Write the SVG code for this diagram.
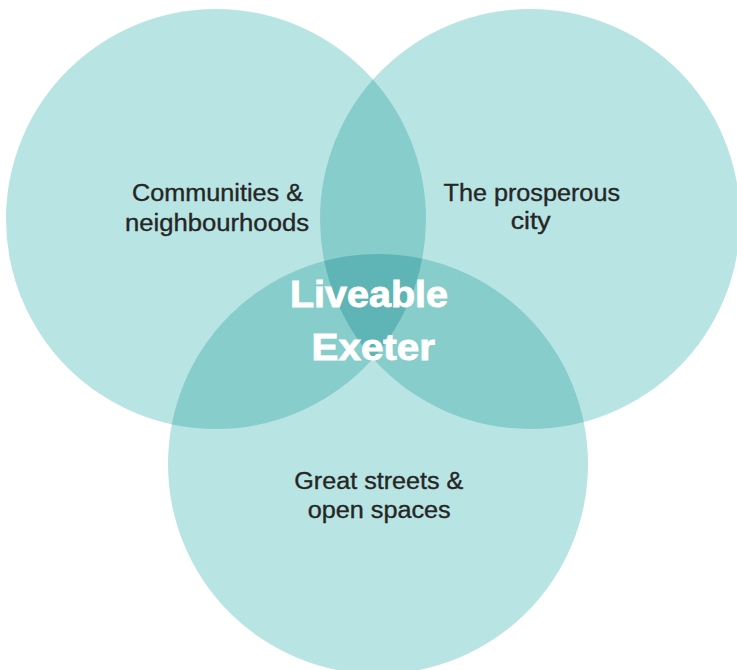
<svg xmlns="http://www.w3.org/2000/svg" width="737" height="670" viewBox="0 0 737 670">
  <style>
    .set { fill: #b8e4e3; }
    .pair { fill: #87cdcc; }
    .core { fill: #5fb4b5; }
    .label { font-family: "Liberation Sans", Arial, sans-serif; font-size: 23.5px; fill: #262626; stroke: #262626; stroke-width: 0.35px; }
    .title { font-family: "Liberation Sans", Arial, sans-serif; font-size: 36px; font-weight: bold; fill: #ffffff; stroke: #ffffff; stroke-width: 0.9px; }
  </style>
  <defs>
    <circle id="c-left" cx="216" cy="219" r="210"/>
    <circle id="c-right" cx="530" cy="219" r="210"/>
    <circle id="c-bottom" cx="378" cy="464" r="210"/>
    <clipPath id="clip-left"><use href="#c-left"/></clipPath>
    <clipPath id="clip-right"><use href="#c-right"/></clipPath>
    <clipPath id="clip-bottom"><use href="#c-bottom"/></clipPath>
  </defs>

  <rect width="737" height="670" fill="#ffffff"/>

  <!-- three sets -->
  <g id="communities">
    <use href="#c-left" class="set"/>
  </g>
  <g id="prosperous">
    <use href="#c-right" class="set"/>
  </g>
  <g id="streets">
    <use href="#c-bottom" class="set"/>
  </g>

  <!-- pairwise overlaps -->
  <g id="overlaps">
    <g clip-path="url(#clip-left)"><use href="#c-right" class="pair"/></g>
    <g clip-path="url(#clip-left)"><use href="#c-bottom" class="pair"/></g>
    <g clip-path="url(#clip-right)"><use href="#c-bottom" class="pair"/></g>
    <!-- triple overlap -->
    <g clip-path="url(#clip-left)"><g clip-path="url(#clip-right)"><use href="#c-bottom" class="core"/></g></g>
  </g>

  <!-- labels -->
  <g id="communities-label">
    <text class="label" x="132" y="200.5" textLength="171" lengthAdjust="spacingAndGlyphs">Communities &amp;</text>
    <text class="label" x="125" y="231" textLength="184" lengthAdjust="spacingAndGlyphs">neighbourhoods</text>
  </g>
  <g id="prosperous-label">
    <text class="label" x="443.5" y="200.5" textLength="176.5" lengthAdjust="spacingAndGlyphs">The prosperous</text>
    <text class="label" x="510.7" y="229" textLength="40" lengthAdjust="spacingAndGlyphs">city</text>
  </g>
  <g id="streets-label">
    <text class="label" x="294.3" y="488.5" textLength="169" lengthAdjust="spacingAndGlyphs">Great streets &amp;</text>
    <text class="label" x="307.7" y="518" textLength="143" lengthAdjust="spacingAndGlyphs">open spaces</text>
  </g>
  <g id="liveable-exeter">
    <text class="title" x="290" y="307" textLength="158" lengthAdjust="spacingAndGlyphs">Liveable</text>
    <text class="title" x="311.5" y="360" textLength="123.5" lengthAdjust="spacingAndGlyphs">Exeter</text>
  </g>
</svg>
